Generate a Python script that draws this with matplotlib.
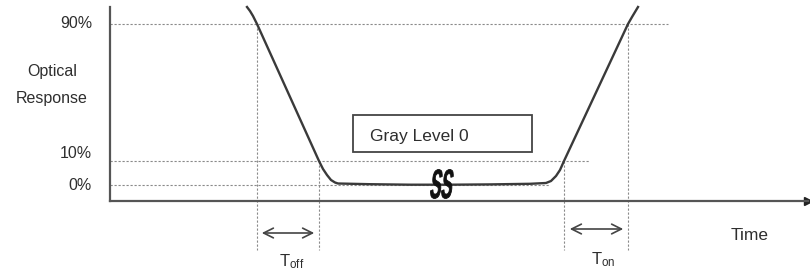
import matplotlib.pyplot as plt
from matplotlib.textpath import TextPath
from matplotlib.patches import PathPatch
from matplotlib.font_manager import FontProperties
from matplotlib.transforms import Affine2D

plt.rcParams['font.family'] = ['Liberation Sans', 'DejaVu Sans']
plt.rcParams['mathtext.fontset'] = 'custom'
plt.rcParams['mathtext.rm'] = 'Liberation Sans'
plt.rcParams['mathtext.it'] = 'Liberation Sans'

# response curve (schematic units: time along x, level above the time axis)
fall_t = [137, 140, 143, 147, 209, 213, 217, 221, 225, 228]
fall_r = [194, 190, 185, 177, 40, 32, 26, 21, 18.5, 17.5]
flat_t = [228, 260, 300, 340, 380, 420, 436]
flat_r = [17.5, 16.8, 16.3, 16.3, 16.6, 17.2, 18]
rise_t = [436, 441, 446, 450, 454, 518, 522, 525, 528]
rise_r = [18, 20, 25, 31, 40, 177, 184, 189, 194]

level_names = ['90%', '10%', '0%']
level_vals = [177, 40, 16]
level_ends = [558, 480, 440]
crossings = [147, 209, 454, 518]
cross_levels = [177, 40, 40, 177]

curve_t = fall_t + flat_t[1:] + rise_t[1:]
curve_r = fall_r + flat_r[1:] + rise_r[1:]

ink = '#2e2e2e'
grid = '#8a8a8a'

fig = plt.figure(figsize=(8.1, 2.71), dpi=100)
ax = fig.add_axes([110 / 810, 70 / 271, 698 / 810, 194 / 271])
ax.set_xlim(0, 698)
ax.set_ylim(0, 194)
for s in ['top', 'right']:
    ax.spines[s].set_visible(False)
for s in ['left', 'bottom']:
    ax.spines[s].set_color('#555555')
    ax.spines[s].set_linewidth(1.6)
ax.set_xticks([])
ax.set_yticks([])
ax.plot(1, 0, '>', color='#222222', markersize=6, transform=ax.transAxes, clip_on=False)

# reference levels
for name, v, end in zip(level_names, level_vals, level_ends):
    ax.plot([0, end], [v, v], color=grid, lw=0.8, ls=(0, (2, 1.6)))
    dy = 8 if name == '10%' else 0
    ax.text(-18, v + dy, name, ha='right', va='center', fontsize=11.5, color=ink)

ax.text(-58, 116, 'Optical\nResponse', ha='center', va='center', fontsize=11.5,
        color=ink, linespacing=1.95)

# vertical markers at 10% / 90% crossings
for t, v in zip(crossings, cross_levels):
    ax.plot([t, t], [v, -49], color=grid, lw=0.8, ls=(0, (2, 1.6)), clip_on=False)

ax.plot(curve_t, curve_r, color='#3a3a3a', lw=1.7, clip_on=False)

# break symbol on the plateau: two tall narrow S glyphs
sym = TextPath((0, 0), 'SS', size=20, prop=FontProperties(family='Liberation Sans', weight='bold'))
ext = sym.get_extents()
tr = (Affine2D().translate(-(ext.x0 + ext.x1) / 2, -(ext.y0 + ext.y1) / 2)
      .scale(21 / ext.width, 29 / ext.height).skew_deg(8, 0).translate(332, 17))
ax.add_patch(PathPatch(tr.transform_path(sym), fc='#111111', ec='#111111', lw=0.6,
                       clip_on=False, zorder=4))

# Gray Level box
ax.add_patch(plt.Rectangle((243, 49), 179, 37, fill=False, ec='#444444', lw=1.3))
ax.text(260, 64, 'Gray Level 0', ha='left', va='center', fontsize=12.5, color=ink)

# Toff / Ton arrows
arrow = dict(arrowstyle='<->,head_length=0.7,head_width=0.35', color='#444444', lw=1.2)
ax.annotate('', xy=(crossings[0] + 2, -32), xytext=(crossings[1] - 2, -32),
            arrowprops=arrow, annotation_clip=False)
ax.annotate('', xy=(crossings[2] + 3, -28), xytext=(crossings[3] - 2, -28),
            arrowprops=arrow, annotation_clip=False)
ax.text(182, -61, r'T$_{\mathrm{off}}$', ha='center', va='center', fontsize=12, color=ink)
ax.text(493, -59, r'T$_{\mathrm{on}}$', ha='center', va='center', fontsize=12, color=ink)
ax.text(640, -35, 'Time', ha='center', va='center', fontsize=12.5, color=ink)

fig.savefig('out.png', dpi=100)
